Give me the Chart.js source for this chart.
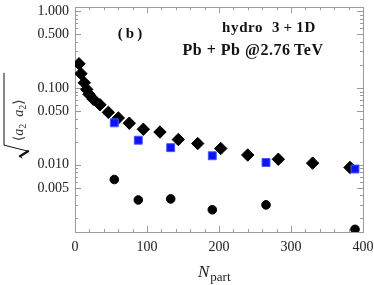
<!DOCTYPE html>
<html>
<head>
<meta charset="utf-8">
<script src="https://cdn.jsdelivr.net/npm/chart.js@4.4.1/dist/chart.umd.min.js"></script>
<style>
  html, body { margin: 0; padding: 0; background: #fff; }
</style>
</head>
<body>
<canvas id="chart" width="374" height="285"></canvas>
<script>
// hydro 3+1D (black diamonds)
var hydroNpart = [5.6, 8.3, 12.9, 16.3, 19.4, 25.4, 34.7, 46.3, 60.2, 75.4, 94.9, 118, 143.5, 170.4, 202.4, 239.9, 282.4, 330, 381.9];
var hydroA2 = [0.207, 0.154, 0.117, 0.096, 0.083, 0.0714, 0.0605, 0.0482, 0.0407, 0.0348, 0.029, 0.0267, 0.0213, 0.0189, 0.0163, 0.0134, 0.0118, 0.0105, 0.00923];
// blue squares and black circles
var dataNpart = [54.6, 87.9, 132.9, 190.7, 265.3, 388.9];
var squareA2 = [0.0352, 0.0209, 0.0167, 0.0131, 0.0107, 0.0088];
var circleA2 = [0.00642, 0.00348, 0.00359, 0.00259, 0.0030, 0.00144];
// axes
var xTicks = [0, 100, 200, 300, 400];
var yTicks = [0.005, 0.01, 0.05, 0.1, 0.5, 1];

var serif = '"Liberation Serif", "DejaVu Serif", serif';

function pts(xs, ys) {
    return xs.map(function (x, i) { return { x: x, y: ys[i] }; });
}

// Mathematica-like frame with inward ticks
var framePlugin = {
    id: 'frame',
    beforeDatasetsDraw: function (chart) {
        var ctx = chart.ctx, a = chart.chartArea;
        var sx = chart.scales.x, sy = chart.scales.y;
        ctx.save();
        ctx.strokeStyle = '#9a9a9a';
        ctx.lineWidth = 1;
        ctx.strokeRect(Math.round(a.left) + 0.5, Math.round(a.top) + 0.5,
            Math.round(a.right - a.left), Math.round(a.bottom - a.top));
        ctx.beginPath();
        for (var v = 0; v <= 400; v += 20) {
            var px = Math.round(sx.getPixelForValue(v)) + 0.5;
            var len = v % 100 === 0 ? 6 : 3;
            ctx.moveTo(px, a.bottom); ctx.lineTo(px, a.bottom - len);
            ctx.moveTo(px, a.top); ctx.lineTo(px, a.top + len);
        }
        for (var k = -3; k <= 0; k++) {
            for (var n = 1; n <= 9; n++) {
                var val = n * Math.pow(10, k);
                if (val < sy.min || val > sy.max) continue;
                var py = Math.round(sy.getPixelForValue(val)) + 0.5;
                var l = (n === 1 || n === 5) ? 6 : 3;
                ctx.moveTo(a.left, py); ctx.lineTo(a.left + l, py);
                ctx.moveTo(a.right, py); ctx.lineTo(a.right - l, py);
            }
        }
        ctx.stroke();
        ctx.restore();
    },
    afterDraw: function (chart) {
        var ctx = chart.ctx, a = chart.chartArea;
        ctx.save();
        ctx.fillStyle = '#111';
        ctx.textBaseline = 'middle';
        ctx.textAlign = 'center';
        ctx.font = 'bold 15px ' + serif;
        ctx.fillText('(\u2009b\u2009)', a.left + 55, a.top + 27);
        ctx.letterSpacing = '0.6px';
        ctx.fillText('hydro  3\u2009+\u20091D', a.left + 194, a.top + 21);
        ctx.font = 'bold 16px ' + serif;
        ctx.letterSpacing = '0.5px';
        ctx.fillText('Pb + Pb @2.76\u2009TeV', a.left + 178, a.top + 44);
        ctx.letterSpacing = '0px';

        // x axis title: N_part
        ctx.fillStyle = '#222';
        ctx.textAlign = 'left';
        ctx.textBaseline = 'alphabetic';
        ctx.font = 'italic 17px ' + serif;
        var nx = a.left + 123;
        ctx.fillText('N', nx, a.bottom + 45);
        var nw = ctx.measureText('N').width;
        ctx.font = '13px ' + serif;
        ctx.fillText('part', nx + nw + 1, a.bottom + 49);

        // y axis title: sqrt(<a2 a2>)
        ctx.save();
        ctx.translate(23, a.top + 113);
        ctx.rotate(-Math.PI / 2);
        var parts = [
            ['\u27e8', '14px ' + serif, 0],
            ['a', 'italic 14px ' + serif, 0],
            ['2', '10px ' + serif, 3],
            ['  ', '14px ' + serif, 0],
            ['a', 'italic 14px ' + serif, 0],
            ['2', '10px ' + serif, 3],
            ['\u27e9', '14px ' + serif, 0]
        ];
        var total = 0;
        parts.forEach(function (p) { ctx.font = p[1]; total += ctx.measureText(p[0]).width; });
        var cx = -total / 2;
        ctx.fillStyle = '#333';
        parts.forEach(function (p) {
            ctx.font = p[1];
            ctx.fillText(p[0], cx, p[2]);
            cx += ctx.measureText(p[0]).width;
        });
        // radical sign
        var x0 = -total / 2 - 4, x1 = total / 2 + 4;
        ctx.strokeStyle = '#111';
        ctx.lineCap = 'round';
        ctx.lineWidth = 1;
        ctx.beginPath();
        ctx.moveTo(x1 + 22, -19);
        ctx.lineTo(x0, -19);
        ctx.lineTo(x0 - 6, 5);
        ctx.stroke();
        ctx.lineWidth = 2.4;
        ctx.beginPath();
        ctx.moveTo(x0 - 6, 5);
        ctx.lineTo(x0 - 11, -3);
        ctx.stroke();
        ctx.lineWidth = 1;
        ctx.beginPath();
        ctx.moveTo(x0 - 11, -3);
        ctx.lineTo(x0 - 13, -1);
        ctx.stroke();
        ctx.restore();
        ctx.restore();
    }
};

var ctx = document.getElementById('chart').getContext('2d');
new Chart(ctx, {
    type: 'scatter',
    data: {
        datasets: [{
            data: pts(dataNpart, squareA2),
            pointStyle: 'rect',
            pointRadius: 5.6,
            backgroundColor: '#0a14f5',
            borderColor: '#4a55ff',
            borderWidth: 1
        }, {
            data: pts(hydroNpart, hydroA2),
            pointStyle: 'rectRot',
            pointRadius: 6.2,
            backgroundColor: '#000',
            borderColor: '#000',
            borderWidth: 1
        }, {
            data: pts(dataNpart, circleA2),
            pointStyle: 'circle',
            pointRadius: 4.3,
            backgroundColor: '#000',
            borderColor: '#000',
            borderWidth: 1
        }]
    },
    plugins: [framePlugin],
    options: {
        responsive: false,
        animation: false,
        events: [],
        layout: { padding: { top: 3, right: 11, left: 0, bottom: 0 } },
        plugins: { legend: { display: false }, tooltip: { enabled: false } },
        scales: {
            x: {
                type: 'linear',
                min: 0,
                max: 400,
                afterFit: function (s) { s.height = 53; s.paddingLeft = 0; s.paddingRight = 0; },
                afterBuildTicks: function (s) { s.ticks = xTicks.map(function (v) { return { value: v }; }); },
                grid: { display: false, drawTicks: false },
                border: { display: false },
                ticks: {
                    padding: 7,
                    maxRotation: 0,
                    color: '#222',
                    font: { family: serif, size: 14 }
                }
            },
            y: {
                type: 'logarithmic',
                min: 0.00133,
                max: 1.13,
                afterFit: function (s) { s.width = 75; s.paddingTop = 0; s.paddingBottom = 0; },
                afterBuildTicks: function (s) { s.ticks = yTicks.map(function (v) { return { value: v }; }); },
                grid: { display: false, drawTicks: false },
                border: { display: false },
                ticks: {
                    padding: 6,
                    color: '#222',
                    font: { family: serif, size: 14 },
                    callback: function (v) { return Number(v).toFixed(3); }
                }
            }
        }
    }
});
</script>
</body>
</html>
